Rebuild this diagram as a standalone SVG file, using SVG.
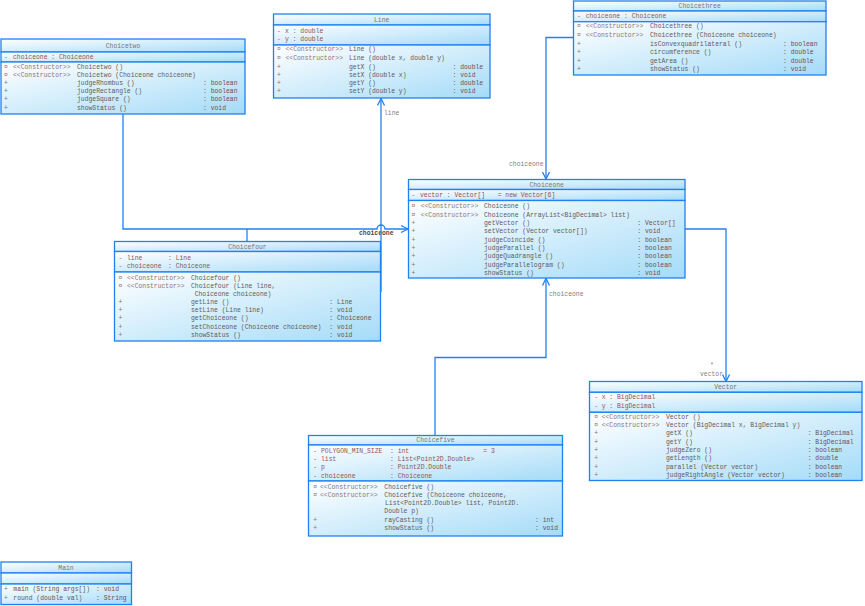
<svg xmlns="http://www.w3.org/2000/svg" width="865" height="606" viewBox="0 0 865 606">
<style>
.c{fill:url(#g);stroke:#1f82f2;stroke-width:1.3}
text{font-family:"Liberation Mono","DejaVu Sans Mono",monospace;font-size:6.4px;fill:#625a5a}
.ti{fill:#807272;text-anchor:middle}
.a{fill:#945252}
.k{fill:#8e7474}
.v{fill:#8e6c6c}
.ty{fill:#744e4e}
.lb{fill:#808080}
.lbd{fill:#484848;font-weight:bold}
.cn{fill:none;stroke:#1f82f2;stroke-width:1.3}
</style>
<defs>
<linearGradient id="g" x1="0" y1="0" x2="1" y2="1">
<stop offset="0" stop-color="#ffffff"/>
<stop offset="1" stop-color="#a4dbf8"/>
</linearGradient>
<marker id="ar" markerUnits="userSpaceOnUse" markerWidth="12" markerHeight="12" viewBox="-10 -6 12 12" refX="0" refY="0" orient="auto">
<path d="M-7,-3.5 L0,0 L-7,3.5" fill="none" stroke="#1f82f2" stroke-width="1.3"/>
</marker>
</defs>

<g id="connectors">
<path class="cn" d="M123,114 V229 H377 a4,4 0 0 1 8,0 H408" marker-end="url(#ar)"/>
<path class="cn" d="M247,241.5 V229"/>
<text class="lbd" x="359" y="235">choiceone</text>
<path class="cn" d="M381,292 V98.5" marker-end="url(#ar)"/>
<text class="lb" x="384" y="115">line</text>
<path class="cn" d="M573.5,37.5 H546 V179" marker-end="url(#ar)"/>
<text class="lb" x="509" y="166">choiceone</text>
<path class="cn" d="M435,435.5 V357.5 H546 V278.5" marker-end="url(#ar)"/>
<text class="lb" x="549" y="296">choiceone</text>
<path class="cn" d="M685,229 H726 V381.5" marker-end="url(#ar)"/>
<text class="lb" x="710" y="367">*</text>
<text class="lb" x="700" y="376">vector</text>
</g>

<g id="Choicetwo">
<rect class="c" x="1" y="39" width="244" height="13"/>
<rect class="c" x="1" y="52" width="244" height="10"/>
<rect class="c" x="1" y="62" width="244" height="52"/>
<text class="ti" x="123" y="47.7">Choicetwo</text>
<text class="v" x="4" y="58.7">-</text><text class="a" x="13" y="58.7">choiceone : Choiceone</text>
<text class="v" x="4" y="68.5">¤</text><text class="k" x="13" y="68.5">&lt;&lt;Constructor&gt;&gt;</text><text x="77" y="68.5">Choicetwo ()</text>
<text class="v" x="4" y="76.7">¤</text><text class="k" x="13" y="76.7">&lt;&lt;Constructor&gt;&gt;</text><text x="77" y="76.7">Choicetwo (Choiceone choiceone)</text>
<text class="v" x="4" y="85">+</text><text x="77" y="85">judgeRhombus ()</text><text class="ty" x="203" y="85">: boolean</text>
<text class="v" x="4" y="93.2">+</text><text x="77" y="93.2">judgeRectangle ()</text><text class="ty" x="203" y="93.2">: boolean</text>
<text class="v" x="4" y="101.4">+</text><text x="77" y="101.4">judgeSquare ()</text><text class="ty" x="203" y="101.4">: boolean</text>
<text class="v" x="4" y="109.6">+</text><text x="77" y="109.6">showStatus ()</text><text class="ty" x="203" y="109.6">: void</text>
</g>

<g id="Line">
<rect class="c" x="273.5" y="14" width="216.5" height="11"/>
<rect class="c" x="273.5" y="25" width="216.5" height="20"/>
<rect class="c" x="273.5" y="45" width="216.5" height="53"/>
<text class="ti" x="381.7" y="21.8">Line</text>
<text class="v" x="277" y="32.8">-</text><text class="a" x="285" y="32.8">x  : double</text>
<text class="v" x="277" y="41.2">-</text><text class="a" x="285" y="41.2">y  : double</text>
<text class="v" x="277" y="51.3">¤</text><text class="k" x="285.5" y="51.3">&lt;&lt;Constructor&gt;&gt;</text><text x="349" y="51.3">Line ()</text>
<text class="v" x="277" y="59.7">¤</text><text class="k" x="285.5" y="59.7">&lt;&lt;Constructor&gt;&gt;</text><text x="349" y="59.7">Line (double x, double y)</text>
<text class="v" x="277" y="68.5">+</text><text x="349" y="68.5">getX ()</text><text class="ty" x="452.5" y="68.5">: double</text>
<text class="v" x="277" y="76.5">+</text><text x="349" y="76.5">setX (double x)</text><text class="ty" x="452.5" y="76.5">: void</text>
<text class="v" x="277" y="84.7">+</text><text x="349" y="84.7">getY ()</text><text class="ty" x="452.5" y="84.7">: double</text>
<text class="v" x="277" y="93.2">+</text><text x="349" y="93.2">setY (double y)</text><text class="ty" x="452.5" y="93.2">: void</text>
</g>

<g id="Choicethree">
<rect class="c" x="573.5" y="1" width="252.5" height="10"/>
<rect class="c" x="573.5" y="11" width="252.5" height="10.7"/>
<rect class="c" x="573.5" y="21.7" width="252.5" height="53.3"/>
<text class="ti" x="699.7" y="8.2">Choicethree</text>
<text class="v" x="577" y="18.2">-</text><text class="a" x="585.7" y="18.2">choiceone : Choiceone</text>
<text class="v" x="577" y="28.3">¤</text><text class="k" x="585.7" y="28.3">&lt;&lt;Constructor&gt;&gt;</text><text x="650" y="28.3">Choicethree ()</text>
<text class="v" x="577" y="37">¤</text><text class="k" x="585.7" y="37">&lt;&lt;Constructor&gt;&gt;</text><text x="650" y="37">Choicethree (Choiceone choiceone)</text>
<text class="v" x="577" y="45.6">+</text><text x="650" y="45.6">isConvexquadrilateral ()</text><text class="ty" x="783" y="45.6">: boolean</text>
<text class="v" x="577" y="54">+</text><text x="650" y="54">circumference ()</text><text class="ty" x="783" y="54">: double</text>
<text class="v" x="577" y="62.6">+</text><text x="650" y="62.6">getArea ()</text><text class="ty" x="783" y="62.6">: double</text>
<text class="v" x="577" y="71">+</text><text x="650" y="71">showStatus ()</text><text class="ty" x="783" y="71">: void</text>
</g>

<g id="Choiceone">
<rect class="c" x="408.5" y="179.5" width="276.5" height="10"/>
<rect class="c" x="408.5" y="189.5" width="276.5" height="11"/>
<rect class="c" x="408.5" y="200.5" width="276.5" height="77.5"/>
<text class="ti" x="546.7" y="186.7">Choiceone</text>
<text class="v" x="411.5" y="197.3">-</text><text class="a" x="420" y="197.3">vector : Vector[]</text><text class="a" x="497.7" y="197.3">= new Vector[6]</text>
<text class="v" x="411.5" y="208.3">¤</text><text class="k" x="420.7" y="208.3">&lt;&lt;Constructor&gt;&gt;</text><text x="484" y="208.3">Choiceone ()</text>
<text class="v" x="411.5" y="216.6">¤</text><text class="k" x="420.7" y="216.6">&lt;&lt;Constructor&gt;&gt;</text><text x="484" y="216.6">Choiceone (ArrayList&lt;BigDecimal&gt; list)</text>
<text class="v" x="411.5" y="225">+</text><text x="484" y="225">getVector ()</text><text class="ty" x="637.3" y="225">: Vector[]</text>
<text class="v" x="411.5" y="233.3">+</text><text x="484" y="233.3">setVector (Vector vector[])</text><text class="ty" x="637.3" y="233.3">: void</text>
<text class="v" x="411.5" y="241.7">+</text><text x="484" y="241.7">judgeCoincide ()</text><text class="ty" x="637.3" y="241.7">: boolean</text>
<text class="v" x="411.5" y="250">+</text><text x="484" y="250">judgeParallel ()</text><text class="ty" x="637.3" y="250">: boolean</text>
<text class="v" x="411.5" y="258.3">+</text><text x="484" y="258.3">judgeQuadrangle ()</text><text class="ty" x="637.3" y="258.3">: boolean</text>
<text class="v" x="411.5" y="266.7">+</text><text x="484" y="266.7">judgeParallelogram ()</text><text class="ty" x="637.3" y="266.7">: boolean</text>
<text class="v" x="411.5" y="275">+</text><text x="484" y="275">showStatus ()</text><text class="ty" x="637.3" y="275">: void</text>
</g>

<g id="Choicefour">
<rect class="c" x="114.5" y="241.5" width="266" height="10"/>
<rect class="c" x="114.5" y="251.5" width="266" height="20.5"/>
<rect class="c" x="114.5" y="272" width="266" height="69"/>
<text class="ti" x="247.5" y="248.7">Choicefour</text>
<text class="v" x="118.5" y="260.3">-</text><text class="a" x="127" y="260.3">line</text><text class="a" x="168" y="260.3">: Line</text>
<text class="v" x="118.5" y="267.7">-</text><text class="a" x="127" y="267.7">choiceone</text><text class="a" x="168" y="267.7">: Choiceone</text>
<text class="v" x="118.5" y="279.6">¤</text><text class="k" x="127" y="279.6">&lt;&lt;Constructor&gt;&gt;</text><text x="191" y="279.6">Choicefour ()</text>
<text class="v" x="118.5" y="287.8">¤</text><text class="k" x="127" y="287.8">&lt;&lt;Constructor&gt;&gt;</text><text x="191" y="287.8">Choicefour (Line line,</text>
<text x="194.7" y="296">Choiceone choiceone)</text>
<text class="v" x="118.5" y="304.3">+</text><text x="191" y="304.3">getLine ()</text><text class="ty" x="329.3" y="304.3">: Line</text>
<text class="v" x="118.5" y="312.2">+</text><text x="191" y="312.2">setLine (Line line)</text><text class="ty" x="329.3" y="312.2">: void</text>
<text class="v" x="118.5" y="320.3">+</text><text x="191" y="320.3">getChoiceone ()</text><text class="ty" x="329.3" y="320.3">: Choiceone</text>
<text class="v" x="118.5" y="328.6">+</text><text x="191" y="328.6">setChoiceone (Choiceone choiceone)</text><text class="ty" x="329.3" y="328.6">: void</text>
<text class="v" x="118.5" y="337">+</text><text x="191" y="337">showStatus ()</text><text class="ty" x="329.3" y="337">: void</text>
</g>

<g id="Vector">
<rect class="c" x="589.5" y="381.5" width="272.5" height="10.8"/>
<rect class="c" x="589.5" y="392.3" width="272.5" height="20"/>
<rect class="c" x="589.5" y="412.3" width="272.5" height="68.2"/>
<text class="ti" x="725.7" y="389.2">Vector</text>
<text class="v" x="594.3" y="399">-</text><text class="a" x="601.7" y="399">x : BigDecimal</text>
<text class="v" x="594.3" y="407.6">-</text><text class="a" x="601.7" y="407.6">y : BigDecimal</text>
<text class="v" x="594.3" y="419">¤</text><text class="k" x="601.7" y="419">&lt;&lt;Constructor&gt;&gt;</text><text x="666" y="419">Vector ()</text>
<text class="v" x="594.3" y="427">¤</text><text class="k" x="601.7" y="427">&lt;&lt;Constructor&gt;&gt;</text><text x="666" y="427">Vector (BigDecimal x, BigDecimal y)</text>
<text class="v" x="594.3" y="435.3">+</text><text x="666" y="435.3">getX ()</text><text class="ty" x="807.7" y="435.3">: BigDecimal</text>
<text class="v" x="594.3" y="443.6">+</text><text x="666" y="443.6">getY ()</text><text class="ty" x="807.7" y="443.6">: BigDecimal</text>
<text class="v" x="594.3" y="451.8">+</text><text x="666" y="451.8">judgeZero ()</text><text class="ty" x="807.7" y="451.8">: boolean</text>
<text class="v" x="594.3" y="460.1">+</text><text x="666" y="460.1">getLength ()</text><text class="ty" x="807.7" y="460.1">: double</text>
<text class="v" x="594.3" y="468.8">+</text><text x="666" y="468.8">parallel (Vector vector)</text><text class="ty" x="807.7" y="468.8">: boolean</text>
<text class="v" x="594.3" y="477.3">+</text><text x="666" y="477.3">judgeRightAngle (Vector vector)</text><text class="ty" x="807.7" y="477.3">: boolean</text>
</g>

<g id="Choicefive">
<rect class="c" x="308.5" y="435.5" width="254" height="9.5"/>
<rect class="c" x="308.5" y="445" width="254" height="36"/>
<rect class="c" x="308.5" y="481" width="254" height="55"/>
<text class="ti" x="435.5" y="442.3">Choicefive</text>
<text class="v" x="313.3" y="453">-</text><text class="a" x="321" y="453">POLYGON_MIN_SIZE</text><text class="a" x="390" y="453">: int</text><text class="a" x="483.3" y="453">= 3</text>
<text class="v" x="313.3" y="461.3">-</text><text class="a" x="321" y="461.3">list</text><text class="a" x="390" y="461.3">: List&lt;Point2D.Double&gt;</text>
<text class="v" x="313.3" y="469.2">-</text><text class="a" x="321" y="469.2">p</text><text class="a" x="390" y="469.2">: Point2D.Double</text>
<text class="v" x="313.3" y="477.6">-</text><text class="a" x="321" y="477.6">choiceone</text><text class="a" x="390" y="477.6">: Choiceone</text>
<text class="v" x="313.3" y="489">¤</text><text class="k" x="320" y="489">&lt;&lt;Constructor&gt;&gt;</text><text x="384.3" y="489">Choicefive ()</text>
<text class="v" x="313.3" y="496.8">¤</text><text class="k" x="320" y="496.8">&lt;&lt;Constructor&gt;&gt;</text><text x="384.3" y="496.8">Choicefive (Choiceone choiceone,</text>
<text x="385" y="505">List&lt;Point2D.Double&gt; list, Point2D.</text>
<text x="384.3" y="513.3">Double p)</text>
<text class="v" x="313.3" y="521.6">+</text><text x="384.3" y="521.6">rayCasting ()</text><text class="ty" x="535" y="521.6">: int</text>
<text class="v" x="313.3" y="530.3">+</text><text x="384.3" y="530.3">showStatus ()</text><text class="ty" x="535" y="530.3">: void</text>
</g>

<g id="Main">
<rect class="c" x="1" y="562" width="130.5" height="11"/>
<rect class="c" x="1" y="573" width="130.5" height="11"/>
<rect class="c" x="1" y="584" width="130.5" height="20.5"/>
<text class="ti" x="66" y="569.8">Main</text>
<text class="v" x="4" y="591.3">+</text><text x="13.3" y="591.3">main (String args[])</text><text class="ty" x="96" y="591.3">: void</text>
<text class="v" x="4" y="599.8">+</text><text x="13.3" y="599.8">round (double val)</text><text class="ty" x="96" y="599.8">: String</text>
</g>
</svg>
